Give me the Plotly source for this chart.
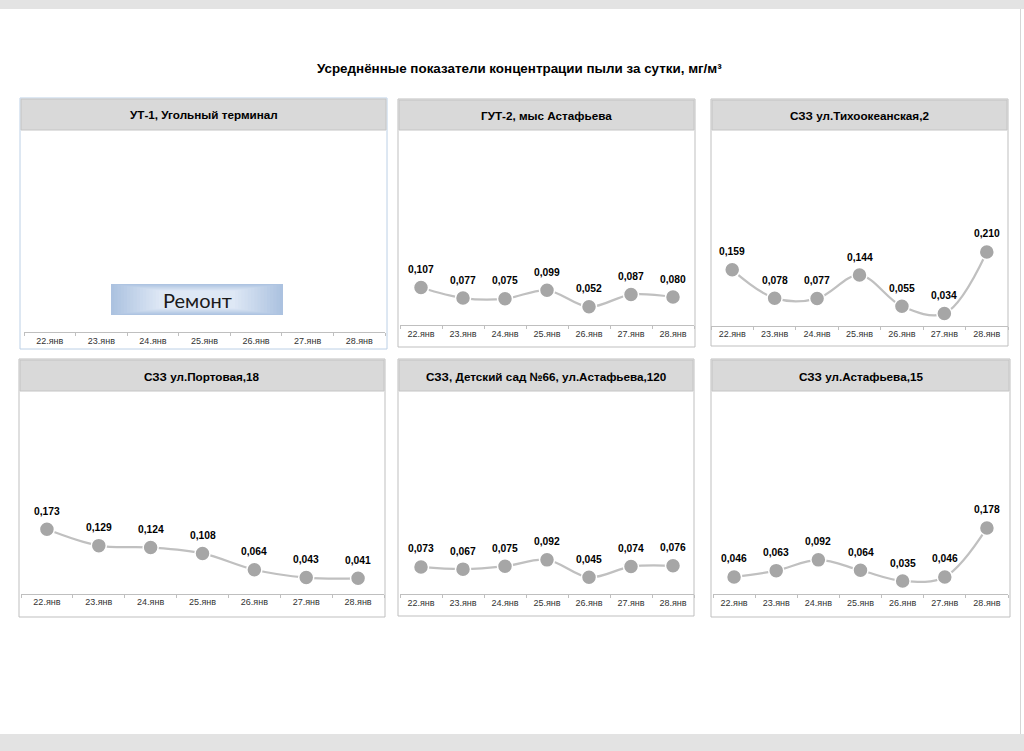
import plotly.graph_objects as go

# ---------------- data ----------------
dates = ["22.янв", "23.янв", "24.янв", "25.янв", "26.янв", "27.янв", "28.янв"]

titles = [
    "УТ-1, Угольный терминал",
    "ГУТ-2, мыс Астафьева",
    "СЗЗ ул.Тихоокеанская,2",
    "СЗЗ ул.Портовая,18",
    "СЗЗ, Детский сад №66, ул.Астафьева,120",
    "СЗЗ ул.Астафьева,15",
]

ut1 = None  # ремонт, нет данных
gut2 = [0.107, 0.077, 0.075, 0.099, 0.052, 0.087, 0.080]
tikhookeanskaya = [0.159, 0.078, 0.077, 0.144, 0.055, 0.034, 0.210]
portovaya = [0.173, 0.129, 0.124, 0.108, 0.064, 0.043, 0.041]
detsad66 = [0.073, 0.067, 0.075, 0.092, 0.045, 0.074, 0.076]
astafyeva15 = [0.046, 0.063, 0.092, 0.064, 0.035, 0.046, 0.178]

series = [ut1, gut2, tikhookeanskaya, portovaya, detsad66, astafyeva15]

main_title = "Усреднённые показатели концентрации пыли за сутки, мг/м³"
repair_text = "Ремонт"

# ---------------- layout geometry (pixels) ----------------
W, H = 1024, 751
def px(x):
    return x / W
def py(y):
    return 1 - y / H

# panel box: (left, top, right, bottom, header_bottom)
panels = [
    (20, 98, 387, 349, 130),
    (398, 99, 695, 347, 130),
    (711, 99, 1008, 346, 130),
    (19, 359, 385, 617, 391),
    (398, 359, 694, 616, 391),
    (711, 359, 1010, 617, 391),
]
# axis extents: (x_left, x_right, axis_line_y, px_per_unit)
axes_geo = [
    (24, 385, 332, 350),
    (400, 694, 325, 350),
    (711, 1008, 325.5, 350),
    (21, 384, 593.5, 371),
    (400, 694, 594, 371),
    (713, 1008, 594, 371),
]
YMAX = 0.55

FONT = "Liberation Sans, Arial, sans-serif"
fig = go.Figure()
shapes = []
annotations = []

# page bands
shapes.append(dict(type="rect", xref="paper", yref="paper", x0=0, x1=1, y0=py(9), y1=1,
                   fillcolor="#e3e3e3", line=dict(width=0), layer="below"))
shapes.append(dict(type="rect", xref="paper", yref="paper", x0=0, x1=1, y0=0, y1=py(734),
                   fillcolor="#e3e3e3", line=dict(width=0), layer="below"))
shapes.append(dict(type="line", xref="paper", yref="paper", x0=px(1020.5), x1=px(1020.5),
                   y0=py(734), y1=py(9), line=dict(color="#d6d6d6", width=1), layer="below"))

annotations.append(dict(text="<b>" + main_title + "</b>", xref="paper", yref="paper",
                        x=px(519), y=py(68), showarrow=False, xanchor="center", yanchor="middle",
                        font=dict(family=FONT, size=13.4, color="#000000")))

for i, (box, geo, title, vals) in enumerate(zip(panels, axes_geo, titles, series)):
    n = i + 1
    l, t, r, b, hb = box
    xl, xr, y0, k = geo
    border = "#bcd0e6" if i == 0 else "#bfbfbf"
    shapes.append(dict(type="rect", xref="paper", yref="paper", x0=px(l), x1=px(r), y0=py(b), y1=py(t),
                       fillcolor="#ffffff", line=dict(color=border, width=1), layer="below"))
    shapes.append(dict(type="rect", xref="paper", yref="paper", x0=px(l + 1), x1=px(r - 1), y0=py(hb), y1=py(t + 1),
                       fillcolor="#d9d9d9", line=dict(color="#c4c4c4", width=1), layer="below"))
    annotations.append(dict(text="<b>" + title + "</b>", xref="paper", yref="paper",
                            x=px((l + r) / 2), y=py((t + hb) / 2 + 1), showarrow=False,
                            xanchor="center", yanchor="middle",
                            font=dict(family=FONT, size=11.7, color="#000000")))

    xa = "xaxis" if n == 1 else f"xaxis{n}"
    ya = "yaxis" if n == 1 else f"yaxis{n}"
    xref = "x" if n == 1 else f"x{n}"
    yref = "y" if n == 1 else f"y{n}"
    top_px = y0 - YMAX * k
    fig.layout[xa] = dict(domain=[px(xl), px(xr)], anchor=yref, type="category",
                          categoryorder="array", categoryarray=dates,
                          range=[-0.5, len(dates) - 0.5], showline=True, linecolor="#bfbfbf",
                          linewidth=1, ticks="outside", ticklen=3, tickcolor="#bfbfbf",
                          tickson="boundaries", showgrid=False, zeroline=False,
                          tickfont=dict(family=FONT, size=9, color="#333333"), fixedrange=True)
    fig.layout[ya] = dict(domain=[py(y0), py(top_px)], anchor=xref, range=[0, YMAX],
                          visible=False, fixedrange=True)

    if vals is None:
        fig.add_trace(go.Scatter(x=dates, y=[None] * len(dates), xaxis=xref, yaxis=yref,
                                 mode="markers", showlegend=False, hoverinfo="skip"))
        continue

    fig.add_trace(go.Scatter(
        x=dates, y=vals, xaxis=xref, yaxis=yref, mode="lines+markers",
        line=dict(color="#c0c0c0", width=2.25, shape="spline", smoothing=1),
        marker=dict(size=15, color="#a6a6a6", line=dict(color="#ffffff", width=1.5)),
        showlegend=False, hoverinfo="x+y"))
    for d, v in zip(dates, vals):
        annotations.append(dict(text="<b>" + f"{v:.3f}".replace(".", ",") + "</b>",
                                xref=xref, yref=yref, x=d, y=v, yshift=18,
                                showarrow=False, xanchor="center", yanchor="middle",
                                font=dict(family=FONT, size=10.3, color="#000000")))

# "Ремонт" box in the first panel (smooth gradient imitation)
rx0, ry0, rx1, ry1 = 111, 284, 283, 315
c_edge = (172, 194, 224)
c_mid = (222, 232, 245)
steps = 16
for j in range(steps):
    f = j / (steps - 1)
    c = tuple(int(round(c_edge[m] + (c_mid[m] - c_edge[m]) * f)) for m in range(3))
    dx = j * 3.2
    dy = j * 0.45
    shapes.append(dict(type="rect", xref="paper", yref="paper",
                       x0=px(rx0 + dx), x1=px(rx1 - dx), y0=py(ry1 - dy), y1=py(ry0 + dy),
                       fillcolor="rgb(%d,%d,%d)" % c, line=dict(width=0), layer="above"))
annotations.append(dict(text=repair_text, xref="paper", yref="paper",
                        x=px((rx0 + rx1) / 2), y=py((ry0 + ry1) / 2), showarrow=False,
                        xanchor="center", yanchor="middle",
                        font=dict(family="Lato, Noto Sans, sans-serif", size=20, color="#1a1a1a")))

fig.update_layout(width=W, height=H, margin=dict(l=0, r=0, t=0, b=0),
                  paper_bgcolor="#ffffff", plot_bgcolor="rgba(0,0,0,0)",
                  shapes=shapes, annotations=annotations, showlegend=False,
                  font=dict(family=FONT))

fig.write_html("out.html", config={"displayModeBar": False},
               post_script="document.body.style.margin='0';")
